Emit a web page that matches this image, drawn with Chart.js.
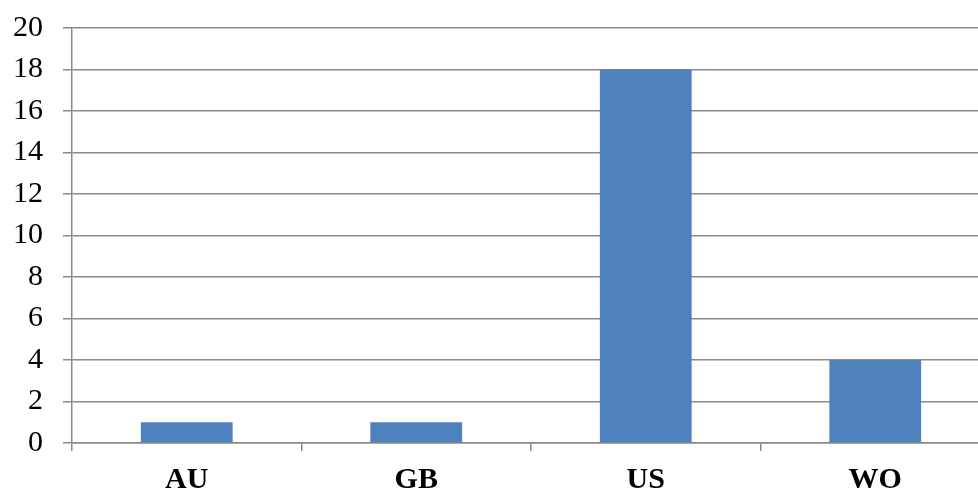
<!DOCTYPE html>
<html>
<head>
<meta charset="utf-8">
<script src="https://cdn.jsdelivr.net/npm/chart.js@4/dist/chart.umd.min.js"></script>
<style>
  html, body { margin: 0; padding: 0; background: #fff; overflow: hidden; }
  #wrap { width: 990px; height: 492px; }
</style>
</head>
<body>
<div id="wrap"><canvas id="c" width="990" height="492"></canvas></div>
<script>
const categories = ['AU', 'GB', 'US', 'WO'];
const counts = [1, 1, 18, 4];
const yTicks = [0, 2, 4, 6, 8, 10, 12, 14, 16, 18, 20];

const gridColor = '#8a8a8a';
const serif = "'Times New Roman', 'Liberation Serif', serif";

new Chart(document.getElementById('c'), {
  type: 'bar',
  data: {
    labels: categories,
    datasets: [{
      data: counts,
      backgroundColor: '#4F81BD',
      borderWidth: 0,
      categoryPercentage: 1.0,
      barPercentage: 0.4
    }]
  },
  options: {
    responsive: false,
    animation: false,
    layout: { padding: { top: 28, right: 0, bottom: 0, left: 0 } },
    plugins: { legend: { display: false }, tooltip: { enabled: false } },
    scales: {
      x: {
        offset: true,
        grid: {
          offset: true,
          drawOnChartArea: false,
          drawTicks: true,
          tickLength: 8,
          color: gridColor,
          lineWidth: 1.5
        },
        border: { display: true, color: gridColor, width: 1.5 },
        ticks: {
          color: '#000',
          padding: 11,
          font: { family: serif, size: 30, weight: 'bold' }
        },
        afterFit: s => { s.height = 49; s.paddingLeft = 0; s.paddingRight = 0; }
      },
      y: {
        min: 0,
        max: 20,
        afterBuildTicks: s => { s.ticks = yTicks.map(v => ({ value: v })); },
        grid: {
          color: gridColor,
          lineWidth: 1.5,
          tickLength: 9,
          drawTicks: true
        },
        border: { display: true, color: gridColor, width: 1.5 },
        ticks: {
          color: '#000',
          padding: 20,
          font: { family: serif, size: 30 }
        },
        afterFit: s => { s.width = 72; s.paddingTop = 0; s.paddingBottom = 0; }
      }
    }
  }
});
</script>
</body>
</html>
